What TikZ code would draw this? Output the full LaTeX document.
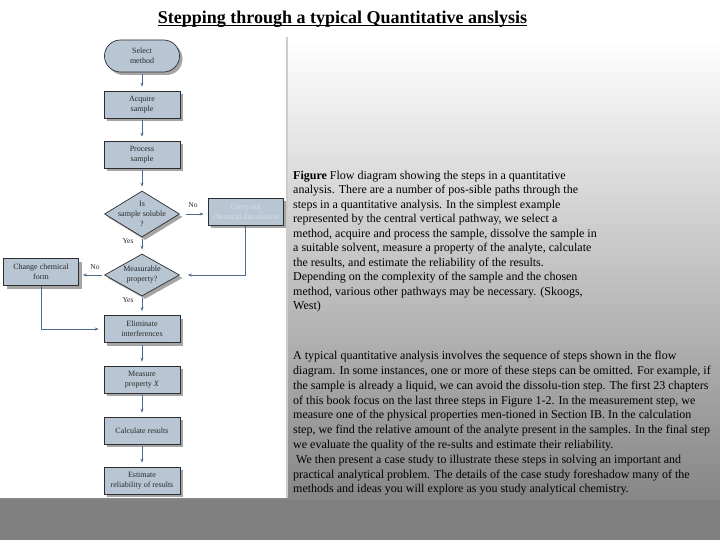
\documentclass[tikz,border=0pt]{standalone}
\usepackage{fontspec}
\setmainfont{Liberation Serif}
\usetikzlibrary{shapes.geometric,shadows,arrows.meta,calc}
\definecolor{boxfill}{HTML}{B7C6D2}
\definecolor{boxline}{HTML}{2E2E2E}
\definecolor{shadowc}{HTML}{A5A5A5}
\definecolor{arrowc}{HTML}{4D6B8F}
\definecolor{nodetext}{HTML}{2A2A2A}
\definecolor{bgbottom}{HTML}{808080}
\definecolor{bgmid}{HTML}{868686}
\begin{document}
\begin{tikzpicture}[x=1pt,y=-1pt,
  base/.style={draw=boxline, fill=boxfill, line width=0.7pt, text=nodetext,
    font=\fontsize{8}{10}\selectfont, align=center,
    drop shadow={shadow xshift=3pt, shadow yshift=-3pt, fill=shadowc, opacity=1}},
  stepbox/.style={base, rectangle, minimum width=76pt, minimum height=27pt, inner sep=1pt},
  startbox/.style={base, rectangle, rounded corners=15.9pt, minimum width=75pt, minimum height=32pt, inner sep=1pt},
  decision/.style={base, diamond, minimum width=75pt, minimum height=46pt, inner sep=0pt},
  dtext/.style={text=nodetext, font=\fontsize{8}{10}\selectfont, align=center, inner sep=0pt},
  flow/.style={draw=arrowc, line width=0.6pt, -{Stealth[length=4pt,width=3pt]}, shorten >=4pt, shorten <=2pt},
  lbl/.style={font=\fontsize{7.5}{9}\selectfont, text=nodetext, inner sep=0pt},
  para/.style={anchor=north west, inner sep=0pt, align=left, text=black}
]
\useasboundingbox (0,0) rectangle (720,540);
% background
\fill[white] (0,0) rectangle (720,40);
\shade[top color=white, bottom color=bgmid] (0,40) rectangle (720,500);
\fill[bgbottom] (0,500) rectangle (720,540);
% image area
\fill[white] (0,37) rectangle (287,498);
\draw[gray!40, line width=1.5pt] (287,37) -- (287,498);

% title
\node[inner sep=0pt, anchor=base, font=\fontsize{18}{20}\selectfont\bfseries] (title) at (342.5,23.3) {Stepping through a typical Quantitative anslysis};
\draw[line width=1.1pt] ($(title.base west)+(0,1.8)$) -- ($(title.base east)+(0,1.8)$);

% flowchart
\node[startbox] (sel) at (142,56) {Select\\method};
\node[stepbox] (acq) at (142,104.5) {Acquire\\sample};
\node[stepbox] (proc) at (142,154.5) {Process\\sample};
\node[decision, label={[dtext]center:Is\\sample soluble\\?}] (sol) at (142,214) {};
\node[stepbox, minimum width=75pt, text=boxfill!55!white] (dis) at (245.5,212) {Carry out\\chemical dissolution};
\node[decision, minimum height=42pt, label={[dtext]center:Measurable\\property?}] (meas) at (142,275) {};
\node[stepbox, minimum width=75pt] (chg) at (41,272) {Change chemical\\form};
\node[stepbox] (elim) at (142,329) {Eliminate\\interferences};
\node[stepbox] (mp) at (142,379.5) {Measure\\property \textit{X}};
\node[stepbox] (calc) at (142,430.5) {Calculate results};
\node[stepbox] (est) at (142,480.5) {Estimate\\reliability of results};

\draw[flow] (sel) -- (acq);
\draw[flow] (acq) -- (proc);
\draw[flow] (proc) -- (sol);
\draw[flow] (sol) -- (meas);
\draw[flow] (meas) -- (elim);
\draw[flow] (elim) -- (mp);
\draw[flow] (mp) -- (calc);
\draw[flow] (calc) -- (est);
\draw[flow, shorten <=6pt] (sol.east) -- (sol.east -| dis.west);
\draw[flow, shorten >=8pt, shorten <=0pt] (dis.south) |- (meas.east);
\draw[flow, shorten <=2pt] (meas.west) -- (meas.west -| chg.east);
\draw[flow, shorten >=5pt, shorten <=0pt] (chg.south) |- (elim.west);

\node[lbl] (no1) at (193,205) {No};
\node[lbl] (yes1) at (128,241) {Yes};
\node[lbl] (no2) at (95,267) {No};
\node[lbl] (yes2) at (128,300.5) {Yes};

% caption
\node[para, font=\fontsize{12}{14.5}\selectfont] (cap) at (293,170.5) {%
\textbf{Figure} Flow diagram showing the steps in a quantitative\\
analysis. There are a number of pos-sible paths through the\\
steps in a quantitative analysis. In the simplest example\\
represented by the central vertical pathway, we select a\\
method, acquire and process the sample, dissolve the sample in\\
a suitable solvent, measure a property of the analyte, calculate\\
the results, and estimate the reliability of the results.\\
Depending on the complexity of the sample and the chosen\\
method, various other pathways may be necessary. (Skoogs,\\
West)};

\node[para, font=\fontsize{12}{14.8}\selectfont] (body) at (293,351) {%
A typical quantitative analysis involves the sequence of steps shown in the flow\\
diagram. In some instances, one or more of these steps can be omitted. For example, if\\
the sample is already a liquid, we can avoid the dissolu-tion step. The first 23 chapters\\
of this book focus on the last three steps in Figure 1-2. In the measurement step, we\\
measure one of the physical properties men-tioned in Section IB. In the calculation\\
step, we find the relative amount of the analyte present in the samples. In the final step\\
we evaluate the quality of the re-sults and estimate their reliability.\\
\ We then present a case study to illustrate these steps in solving an important and\\
practical analytical problem. The details of the case study foreshadow many of the\\
methods and ideas you will explore as you study analytical chemistry.};
\end{tikzpicture}
\end{document}
